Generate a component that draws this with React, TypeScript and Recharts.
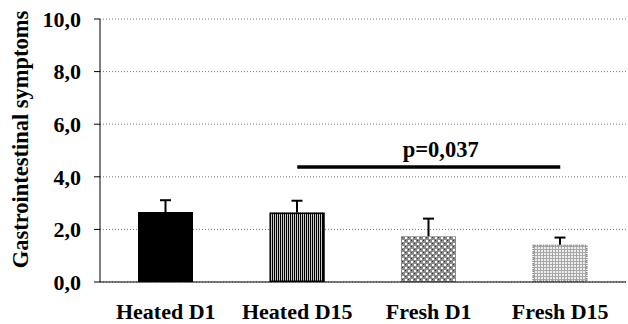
import React from "react"
import { BarChart, Bar, XAxis, YAxis, CartesianGrid, ReferenceLine } from "recharts"

const categories = ["Heated D1", "Heated D15", "Fresh D1", "Fresh D15"]
const means = [2.66, 2.64, 1.74, 1.42]
const errors = [0.45, 0.45, 0.67, 0.27]
const yTicks = [0, 2, 4, 6, 8, 10]
const boundaryTicks = [1, 2, 3]
const pValue = "p=0,037"
const pLevel = 4.37
const pFrom = "Heated D15"
const pTo = "Fresh D15"

const data = categories.map((name, i) => ({ name, mean: means[i], err: errors[i] }))

const FONT = "'Liberation Serif', 'Times New Roman', serif"

// fill + outline for each bar
const barStyles = [
  { fill: "#000", stroke: "#000", dash: undefined },
  { fill: "url(#stripes)", stroke: "#000", dash: undefined },
  { fill: "url(#checker)", stroke: "none", dash: undefined },
  { fill: "url(#hatch)", stroke: "#888", dash: "1 1" },
]

const fmt = (v: number) => v.toFixed(1).replace(".", ",")

function BarWithError(props: any) {
  const { x, y, width, height, payload, index } = props
  const st = barStyles[index] || barStyles[0]
  const perUnit = payload.mean ? height / payload.mean : 0
  const top = y - payload.err * perUnit
  const cx = x + width / 2
  return (
    <g>
      <rect x={x} y={y} width={width} height={height} fill={st.fill} />
      {st.stroke !== "none" && (
        <rect
          x={x + 0.75}
          y={y + 0.75}
          width={width - 1.5}
          height={height - 1.5}
          fill="none"
          stroke={st.stroke}
          strokeWidth={1.5}
          strokeDasharray={st.dash}
        />
      )}
      <line x1={cx} y1={y} x2={cx} y2={top} stroke="#000" strokeWidth={2} />
      <line x1={cx - 5.5} y1={top} x2={cx + 5.5} y2={top} stroke="#000" strokeWidth={2} />
    </g>
  )
}

function YTitle(props: any) {
  const vb = props.viewBox || { x: 0, y: 0, width: 0, height: 0 }
  const cy = vb.y + vb.height / 2 - 11
  return (
    <text
      x={20}
      y={cy}
      transform={`rotate(-90 20 ${cy})`}
      textAnchor="middle"
      dominantBaseline="central"
      fontFamily={FONT}
      fontWeight="bold"
      fontSize={22.5}
      fill="#000"
    >
      Gastrointestinal symptoms
    </text>
  )
}

function PLabel(props: any) {
  const vb = props.viewBox || { x: 0, y: 0, width: 0, height: 0 }
  return (
    <text
      x={vb.x + vb.width / 2 + 12}
      y={vb.y - 10}
      textAnchor="middle"
      fontFamily={FONT}
      fontWeight="bold"
      fontSize={22.5}
      fill="#000"
    >
      {pValue}
    </text>
  )
}

export default function App() {
  return (
    <div style={{ position: "absolute", left: 0, top: 0, width: 628, height: 324, background: "#fff" }}>
      <svg width={0} height={0} style={{ position: "absolute" }}>
        <defs>
          <pattern id="stripes" patternUnits="userSpaceOnUse" width={2} height={2}>
            <rect x={0} y={0} width={2} height={2} fill="#c8c8c8" />
            <rect x={0} y={0} width={1} height={2} fill="#000" />
          </pattern>
          <pattern id="checker" patternUnits="userSpaceOnUse" width={6} height={6}>
            <rect x={0} y={0} width={6} height={6} fill="#8c8c8c" />
            <rect x={0} y={0} width={2} height={2} fill="#fff" />
            <rect x={3} y={3} width={2} height={2} fill="#fff" />
            <rect x={3} y={0} width={1} height={1} fill="#333" />
            <rect x={0} y={3} width={1} height={1} fill="#333" />
          </pattern>
          <pattern id="hatch" patternUnits="userSpaceOnUse" width={3} height={3}>
            <rect x={0} y={0} width={3} height={3} fill="#eee" />
            <rect x={0} y={0} width={1} height={3} fill="#a8a8a8" />
            <rect x={0} y={0} width={3} height={1} fill="#a8a8a8" />
          </pattern>
        </defs>
      </svg>
      <BarChart
        width={628}
        height={324}
        data={data}
        margin={{ top: 19, right: 2, bottom: 0, left: 0 }}
        barSize={55}
      >
        <CartesianGrid vertical={false} stroke="#777" strokeDasharray="1 2" />
        <XAxis
          xAxisId="bounds"
          type="number"
          domain={[0, 4]}
          ticks={boundaryTicks}
          tick={false}
          tickSize={5}
          axisLine={false}
          tickLine={{ stroke: "#000" }}
          height={0}
        />
        <XAxis
          dataKey="name"
          height={42}
          tickLine={false}
          tickSize={0}
          tickMargin={21}
          axisLine={{ stroke: "#000" }}
          tick={{ fontFamily: FONT, fontWeight: "bold", fontSize: 22, fill: "#000" }}
          interval={0}
        />
        <YAxis
          width={100}
          domain={[0, 10]}
          ticks={yTicks}
          tickFormatter={fmt}
          tickSize={6}
          tickMargin={13}
          axisLine={{ stroke: "#000" }}
          tickLine={{ stroke: "#000" }}
          tick={{ fontFamily: FONT, fontWeight: "bold", fontSize: 22, fill: "#000" }}
          label={<YTitle />}
        />
        <Bar dataKey="mean" shape={BarWithError} isAnimationActive={false} />
        <ReferenceLine
          segment={[
            { x: pFrom, y: pLevel },
            { x: pTo, y: pLevel },
          ]}
          stroke="#000"
          strokeWidth={3.5}
          label={<PLabel />}
        />
      </BarChart>
    </div>
  )
}
